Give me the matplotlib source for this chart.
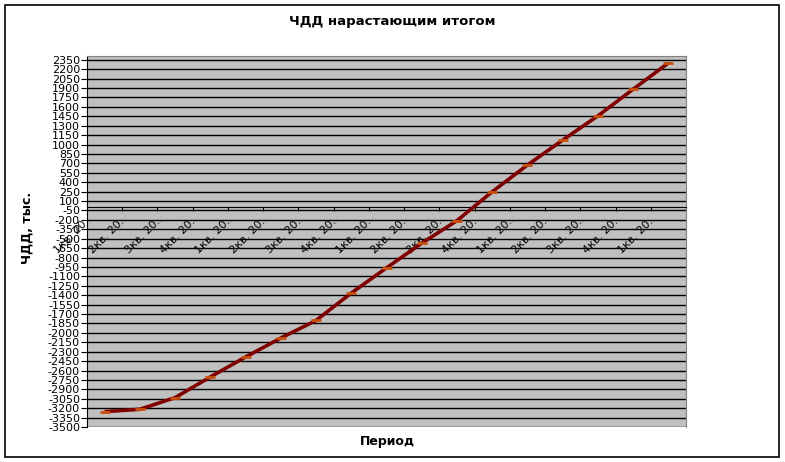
import numpy as np
import matplotlib.pyplot as plt
from matplotlib.patches import Rectangle

# Quarters (labels as shown, truncated like in the original)
quarters = ["1кв. 20..", "2кв. 20..", "3кв. 20..", "4кв. 20..",
            "1кв. 20..", "2кв. 20..", "3кв. 20..", "4кв. 20..",
            "1кв. 20..", "2кв. 20..", "3кв. 20..", "4кв. 20..",
            "1кв. 20..", "2кв. 20..", "3кв. 20..", "4кв. 20..",
            "1кв. 20.."]
# Cumulative NPV, thousands
npv_cum = [-3255, -3218, -3032, -2703, -2385, -2083, -1803, -1367, -965,
           -572, -213, 248, 673, 1070, 1456, 1881, 2299]

fig = plt.figure(figsize=(7.85, 4.62), dpi=100)
W, H = 785, 462
ax = fig.add_axes([87 / W, 1 - 427 / H, (686 - 87) / W, (427 - 56) / H])
ax.set_facecolor('#C0C0C0')

# move x axis to zero first (this resets tick settings)
ax.spines['bottom'].set_position(('data', 0))
ax.spines['bottom'].set_color('black')
ax.spines['bottom'].set_zorder(2.5)
ax.spines['left'].set_color('black')
for s in ['top', 'right']:
    ax.spines[s].set_color('#808080')

x = np.arange(len(npv_cum))
ax.plot(x, npv_cum, color='#800000', lw=2.6, solid_capstyle='butt',
        marker='_', markersize=7, markeredgewidth=2,
        markeredgecolor='#C8500A', zorder=3)

ax.set_xlim(-0.5, len(npv_cum) - 0.5)
ax.set_ylim(-3500, 2410)

yt = np.arange(-3500, 2351, 150)
ax.set_yticks(yt)
ax.set_yticklabels([str(v) for v in yt], fontsize=8)
ax.yaxis.grid(True, color='black', lw=1)
ax.set_axisbelow(True)

xt = np.arange(-0.5, len(npv_cum) + 0.5)
ax.set_xticks(xt)
ax.set_xticklabels(quarters + [''], fontsize=8)
for lab in ax.get_xticklabels():
    lab.set_rotation(45)
    lab.set_ha('right')
    lab.set_va('top')
    lab.set_rotation_mode('anchor')
ax.tick_params(axis='x', direction='out', length=3, pad=2)
ax.tick_params(axis='y', direction='out', length=4, pad=1)

fig.text(392 / W, 1 - 22 / H, 'ЧДД нарастающим итогом', ha='center',
         va='center', fontsize=9.5, fontweight='bold')
fig.text(27 / W, 1 - 228 / H, 'ЧДД, тыс.', ha='center', va='center',
         rotation=90, fontsize=9, fontweight='bold')
fig.text(387 / W, 1 - 441 / H, 'Период', ha='center', va='center',
         fontsize=9, fontweight='bold')

fig.patches.append(Rectangle((5 / W, 1 - 457 / H), 774 / W, 452 / H,
                             transform=fig.transFigure, fill=False,
                             edgecolor='black', lw=1.2))

fig.savefig('out.png', dpi=100)
